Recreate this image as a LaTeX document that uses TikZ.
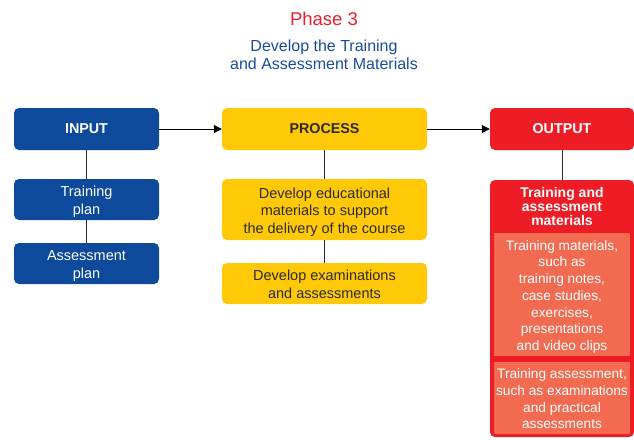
\documentclass[tikz,border=0pt]{standalone}
\usepackage{fontspec}
\setmainfont{Liberation Sans}
\usetikzlibrary{arrows.meta}
\definecolor{ibl}{HTML}{0D4A9B}
\definecolor{pyl}{HTML}{FFC907}
\definecolor{ord}{HTML}{EE1C25}
\definecolor{osl}{HTML}{F26B50}
\definecolor{ttl}{HTML}{E8202A}
\definecolor{sub}{HTML}{1A4C9C}
\definecolor{dtx}{HTML}{2B2B2B}
\tikzset{
  box/.style={rounded corners=5pt, minimum width=145pt, align=center, inner sep=0pt,
    font=\fontsize{14.5}{17.5}\selectfont},
  low/.style={text depth=0pt},
  inbox/.style={box, fill=ibl, text=white},
  prbox/.style={box, fill=pyl, text=dtx, minimum width=205pt},
  oubox/.style={box, fill=ord, text=white, minimum width=144pt},
  salbox/.style={fill=osl, text=white, minimum width=136pt, align=center, inner sep=0pt,
    font=\fontsize{13.7}{16.7}\selectfont, low},
  head/.style={font=\fontsize{14.3}{17}\selectfont\bfseries},
  conn/.style={draw=dtx, line width=1pt},
  arr/.style={draw=black, line width=1pt, -{Triangle[length=8pt,width=8pt]}}
}
\begin{document}
\begin{tikzpicture}[x=1pt,y=-1pt]
\useasboundingbox (0,0) rectangle (634,439);
\node[text=ttl, font=\fontsize{18.5}{20}\selectfont] (title) at (324,19) {Phase 3};
\node[text=sub, align=center, font=\fontsize{16}{18}\selectfont] (subt) at (324,54.5) {Develop the Training\\and Assessment Materials};

\node[inbox, minimum height=42pt, head] (input) at (86.5,129) {INPUT};
\node[inbox, minimum height=41pt, low] (tplan) at (86.5,199.5) {\strut Training\\plan\strut};
\node[inbox, minimum height=41pt, low] (aplan) at (86.5,263.5) {\strut Assessment\\plan\strut};

\node[prbox, minimum height=42pt, head] (process) at (324.5,129) {PROCESS};
\node[prbox, minimum height=61pt, low] (dev1) at (324.5,209.5) {\strut Develop educational\\materials to support\\the delivery of the course\strut};
\node[prbox, minimum height=41pt, low] (dev2) at (324.5,283.5) {\strut Develop examinations\\and assessments\strut};

\node[oubox, minimum height=42pt, head] (output) at (562,129) {OUTPUT};
\node[oubox, minimum height=257pt] (obig) at (562,308.5) {};
\node[text=white, align=center, font=\fontsize{14}{14}\selectfont\bfseries] (otitle) at (562,206) {Training and\\assessment\\materials};
\node[salbox, minimum height=123pt] (s1) at (562,294.5) {\strut Training materials,\\such as\\training notes,\\case studies,\\exercises,\\presentations\\and video clips\strut};
\node[salbox, minimum height=72pt] (s2) at (562,398) {\strut Training assessment,\\such as examinations\\and practical\\assessments\strut};

\draw[conn] (input) -- (tplan);
\draw[conn] (tplan) -- (aplan);
\draw[conn] (process) -- (dev1);
\draw[conn] (dev1) -- (dev2);
\draw[conn] (output) -- (obig);
\draw[arr] (input) -- (process);
\draw[arr] (process) -- (output);
\end{tikzpicture}
\end{document}
